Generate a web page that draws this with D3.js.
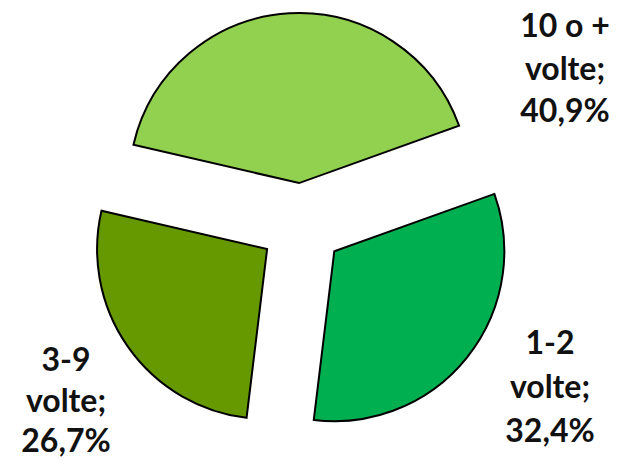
<!DOCTYPE html>
<html>
<head>
<meta charset="utf-8">
<script src="https://cdn.jsdelivr.net/npm/d3@7"></script>
<style>
  html, body { margin: 0; padding: 0; background: #fff; }
  svg { display: block; }
  text { font-family: Lato, "Open Sans", sans-serif; font-weight: bold; fill: #111; }
</style>
</head>
<body>
<svg id="chart" width="619" height="466"></svg>
<script>
// Data
const categories = ["1-2", "3-9", "10 o +"];
const values = [32.4, 26.7, 40.9];
const valueLabels = ["32,4%", "26,7%", "40,9%"];
const colors = ["#00B050", "#669900", "#92D050"];

const width = 619, height = 466;
const cx = 301.5, cy = 225, radius = 170, explode = 42;
const startDeg = 70.3;

const svg = d3.select("#chart");
const g = svg.append("g").attr("transform", `translate(${cx},${cy})`);

const pie = d3.pie().sort(null).value(d => d)
  .startAngle(startDeg * Math.PI / 180)
  .endAngle(startDeg * Math.PI / 180 + 2 * Math.PI);
const arcs = pie(values);
const arc = d3.arc().innerRadius(0).outerRadius(radius);

g.selectAll("path.slice")
  .data(arcs)
  .enter().append("path")
  .attr("class", "slice")
  .attr("d", arc)
  .attr("transform", d => {
    const a = (d.startAngle + d.endAngle) / 2;
    return `translate(${explode * Math.sin(a)},${-explode * Math.cos(a)})`;
  })
  .attr("fill", (d, i) => colors[i])
  .attr("stroke", "#000")
  .attr("stroke-width", 2)
  .attr("stroke-linejoin", "miter");

// Label positions (center x, first baseline y, line spacing)
const labelPos = [
  { x: 550, y: 354, dy: 44 },
  { x: 66, y: 371, dy: 40.5 },
  { x: 565, y: 37, dy: 42.5 }
];

categories.forEach((c, i) => {
  const lines = [c, "volte;", valueLabels[i]];
  const t = svg.append("text")
    .attr("text-anchor", "middle")
    .style("font-size", "32px");
  lines.forEach((ln, j) => {
    t.append("tspan")
      .attr("x", labelPos[i].x)
      .attr("y", labelPos[i].y + j * labelPos[i].dy)
      .text(ln);
  });
});
</script>
</body>
</html>
